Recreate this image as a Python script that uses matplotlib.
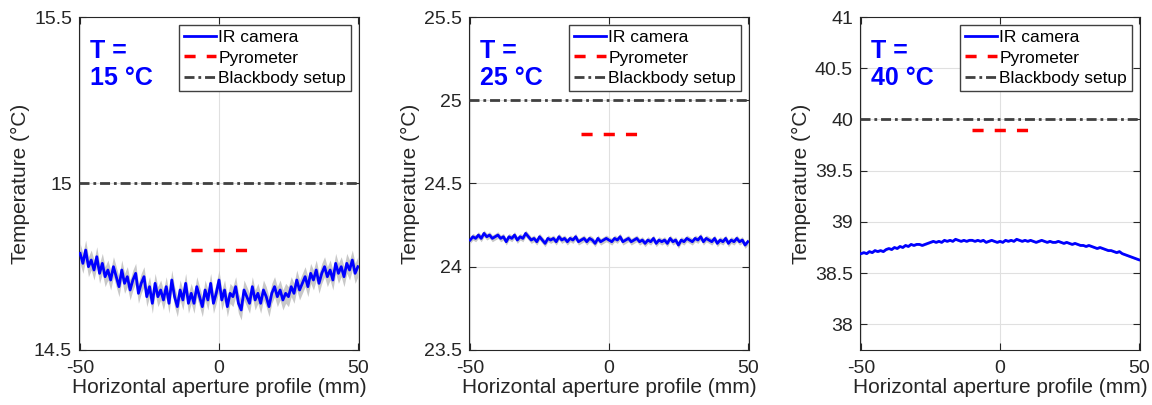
import numpy as np
import matplotlib
matplotlib.use("Agg")
import matplotlib.pyplot as plt

plt.rcParams["font.family"] = ["Liberation Sans", "DejaVu Sans"]
plt.rcParams["axes.unicode_minus"] = False

# Data
x_mm = np.arange(-50, 51, 1)

ir_15 = [
    14.79, 14.76, 14.80, 14.75, 14.77, 14.74, 14.78, 14.73, 14.76, 14.72,
    14.74, 14.71, 14.75, 14.72, 14.69, 14.74, 14.70, 14.72, 14.68, 14.71,
    14.73, 14.67, 14.70, 14.72, 14.66, 14.69, 14.64, 14.70, 14.66, 14.68,
    14.65, 14.69, 14.64, 14.71, 14.66, 14.63, 14.68, 14.65, 14.70, 14.64,
    14.67, 14.64, 14.69, 14.66, 14.63, 14.68, 14.65, 14.70, 14.64, 14.67,
    14.71, 14.65, 14.68, 14.63, 14.67, 14.66, 14.69, 14.64, 14.62, 14.68,
    14.66, 14.64, 14.69, 14.65, 14.67, 14.64, 14.68, 14.66, 14.63, 14.67,
    14.69, 14.66, 14.68, 14.65, 14.67, 14.66, 14.69, 14.67, 14.71, 14.68,
    14.70, 14.72, 14.69, 14.73, 14.71, 14.74, 14.70, 14.73, 14.75, 14.72,
    14.74, 14.71, 14.76, 14.73, 14.75, 14.72, 14.76, 14.74, 14.77, 14.73, 14.75,
]
ir_25 = [
    24.16, 24.18, 24.17, 24.19, 24.17, 24.20, 24.18, 24.19, 24.17, 24.18,
    24.19, 24.17, 24.18, 24.15, 24.18, 24.17, 24.19, 24.16, 24.18, 24.17,
    24.20, 24.18, 24.16, 24.17, 24.15, 24.18, 24.16, 24.14, 24.17, 24.16,
    24.17, 24.15, 24.18, 24.16, 24.17, 24.15, 24.17, 24.16, 24.18, 24.15,
    24.16, 24.17, 24.15, 24.17, 24.16, 24.14, 24.17, 24.15, 24.16, 24.17,
    24.16, 24.15, 24.17, 24.16, 24.18, 24.15, 24.16, 24.17, 24.15, 24.16,
    24.17, 24.15, 24.16, 24.14, 24.16, 24.15, 24.17, 24.14, 24.16, 24.15,
    24.16, 24.14, 24.17, 24.15, 24.16, 24.13, 24.16, 24.15, 24.17, 24.16,
    24.15, 24.17, 24.16, 24.18, 24.15, 24.17, 24.16, 24.15, 24.17, 24.14,
    24.16, 24.15, 24.17, 24.14, 24.16, 24.15, 24.17, 24.15, 24.16, 24.13, 24.15,
]
ir_40 = [
    38.69, 38.70, 38.69, 38.71, 38.70, 38.72, 38.71, 38.72, 38.71, 38.73,
    38.74, 38.73, 38.75, 38.74, 38.76, 38.75, 38.77, 38.76, 38.78, 38.77,
    38.78, 38.78, 38.77, 38.78, 38.79, 38.80, 38.81, 38.80, 38.81, 38.80,
    38.82, 38.81, 38.82, 38.81, 38.83, 38.82, 38.81, 38.82, 38.81, 38.82,
    38.82, 38.81, 38.82, 38.81, 38.82, 38.80, 38.81, 38.82, 38.81, 38.80,
    38.81, 38.80, 38.82, 38.81, 38.82, 38.81, 38.83, 38.82, 38.81, 38.82,
    38.81, 38.82, 38.81, 38.80, 38.81, 38.82, 38.81, 38.80, 38.81, 38.80,
    38.80, 38.81, 38.80, 38.79, 38.80, 38.79, 38.78, 38.79, 38.78, 38.77,
    38.77, 38.76, 38.77, 38.76, 38.75, 38.74, 38.75, 38.74, 38.73, 38.72,
    38.72, 38.71, 38.70, 38.71, 38.69, 38.68, 38.67, 38.66, 38.65, 38.64, 38.63,
]

setpoints = [15, 25, 40]
pyrometer = [14.80, 24.80, 39.90]
pyro_x = [-10, 10]
ir_std = [0.03, 0.02, 0.01]
ylims = [(14.5, 15.5), (23.5, 25.5), (37.75, 41)]
yticks = [
    [14.5, 15, 15.5],
    [23.5, 24, 24.5, 25, 25.5],
    [38, 38.5, 39, 39.5, 40, 40.5, 41],
]
ytick_labels = [
    ["14.5", "15", "15.5"],
    ["23.5", "24", "24.5", "25", "25.5"],
    ["38", "38.5", "39", "39.5", "40", "40.5", "41"],
]
series = [ir_15, ir_25, ir_40]

fig = plt.figure(figsize=(11.52, 4.05), dpi=100)
lefts = [79 / 1152, 469 / 1152, 860 / 1152]
dark = "#262626"

for i in range(3):
    ax = fig.add_axes([lefts[i], 0.136, 280 / 1152, 0.822])
    y = np.array(series[i])
    ax.fill_between(x_mm, y - ir_std[i], y + ir_std[i], color="#c8c8c8", lw=0, zorder=2)
    ax.plot(x_mm, y, color="#0000ff", lw=2, label="IR camera", zorder=3)
    ax.plot(pyro_x, [pyrometer[i]] * 2, color="#ff0000", lw=2.5,
            dashes=(3.2, 3.2), label="Pyrometer", zorder=4)
    ax.axhline(setpoints[i], color="#404040", lw=2, dashes=(3.6, 1.4, 1, 1.4),
               label="Blackbody setup", zorder=4)

    ax.set_xlim(-50.4, 50.4)
    ax.set_ylim(*ylims[i])
    ax.set_xticks([-50, 0, 50])
    ax.set_yticks(yticks[i])
    ax.set_yticklabels(ytick_labels[i])
    ax.grid(True, color="#e0e0e0", lw=0.8, zorder=0)
    ax.set_axisbelow(True)
    ax.tick_params(direction="in", top=True, right=True, labelsize=14,
                   colors=dark, length=5, width=0.8, pad=5)
    ax.tick_params(axis="x", pad=7)
    for sp in ax.spines.values():
        sp.set_color(dark)
        sp.set_linewidth(0.8)

    ax.set_xlabel("Horizontal aperture profile (mm)", fontsize=15, color=dark, labelpad=1)
    ax.set_ylabel("Temperature (°C)", fontsize=15, color=dark, labelpad=3)

    ax.text(0.04, 0.935, f"T =\n{setpoints[i]} °C", transform=ax.transAxes,
            fontsize=18, fontweight="bold", color="#0000ff", va="top", ha="left",
            linespacing=1.2)

    leg = ax.legend(loc="upper right", fontsize=12.5, fancybox=False, framealpha=1,
                    edgecolor="#404040", handlelength=1.8, handletextpad=0.15,
                    labelspacing=0.3, borderaxespad=0.45, borderpad=0.3)
    leg.get_frame().set_linewidth(1)

fig.savefig("out.png", dpi=100)
